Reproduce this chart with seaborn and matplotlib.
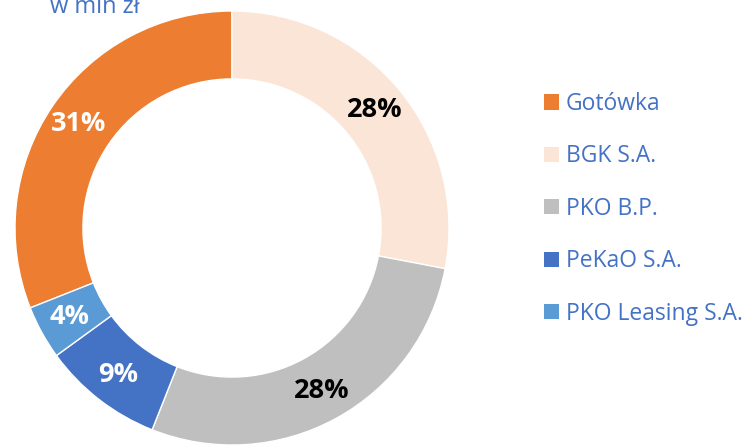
import matplotlib
matplotlib.use('Agg')
import matplotlib.pyplot as plt
import seaborn as sns

sns.set_style('white')
plt.rcParams['font.family'] = ['Open Sans', 'DejaVu Sans']

# Data (share of financing, %)
labels = ['Gotówka', 'BGK S.A.', 'PKO B.P.', 'PeKaO S.A.', 'PKO Leasing S.A.']
shares = [31, 28, 28, 9, 4]
colors = ['#ED7D31', '#FBE5D6', '#BFBFBF', '#4472C4', '#5B9BD5']
pct_colors = ['white', 'black', 'black', 'white', 'white']
title = 'w mln zł'
blue_text = '#4472C4'

fig = plt.figure(figsize=(7.46, 4.47), dpi=100)
ax = fig.add_axes([15 / 746, 2 / 447, 434 / 746, 434 / 447])

# first slice (Gotówka) ends at 12 o'clock, rest go clockwise from there
start = 90 + shares[0] / sum(shares) * 360
wedges, texts, autotexts = ax.pie(
    shares, colors=colors, startangle=start, counterclock=False, radius=1,
    wedgeprops=dict(width=0.313, edgecolor='white', linewidth=1),
    autopct='%.0f%%', pctdistance=0.855,
    textprops=dict(fontsize=19.5, fontweight='bold'))
for t, c in zip(autotexts, pct_colors):
    t.set_color(c)
ax.set_xlim(-1, 1)
ax.set_ylim(-1, 1)
ax.set_aspect('equal')

leg = ax.legend(wedges, labels, loc='upper left',
                bbox_to_anchor=(544 / 746, (447 - 92) / 447),
                bbox_transform=fig.transFigure, frameon=False, fontsize=16.5,
                handlelength=0.65, handleheight=0.65, handletextpad=0.3,
                labelspacing=1.24, labelcolor=blue_text,
                borderpad=0, borderaxespad=0)
for h in leg.legend_handles:
    h.set_linewidth(0)

fig.text(50 / 746, (447 - 13) / 447, title, fontsize=17, color=blue_text,
         va='baseline')

fig.savefig('out.png', dpi=100)
